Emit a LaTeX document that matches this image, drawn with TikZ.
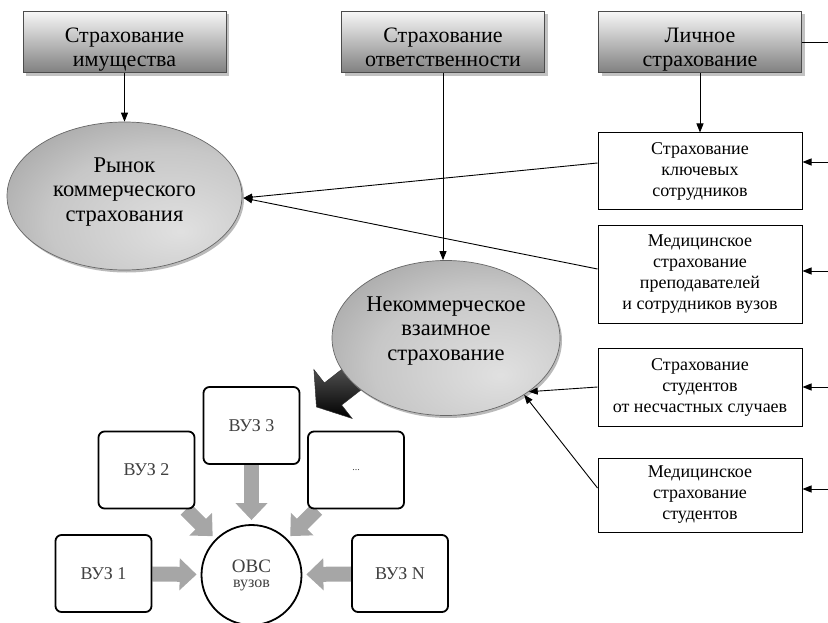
\documentclass[tikz,border=0pt]{standalone}
\usepackage{fontspec}
\setmainfont{Liberation Serif}
\usetikzlibrary{arrows.meta,shapes.geometric,shadows,calc}
\pgfdeclarelayer{bg}
\pgfsetlayers{bg,main}
\pgfdeclareradialshading{ellshade}{\pgfpoint{12bp}{-12bp}}{color(0bp)=(black!12); color(25bp)=(black!22); color(55bp)=(black!48); color(100bp)=(black!58)}
\newcommand{\topstrut}{\rule{0pt}{31pt}}
\newcommand{\botstrut}{\rule[-6pt]{0pt}{6pt}}
\begin{document}
\begin{tikzpicture}[x=1pt,y=-1pt,
  topbox/.style={rectangle, minimum width=203pt, minimum height=60pt, inner sep=0pt, align=center,
    font=\fontsize{22}{24.5}\selectfont, draw=black!70, line width=0.8pt,
    top color=black!3, bottom color=black!50,
    drop shadow={shadow xshift=3pt, shadow yshift=-3pt, fill=black!40, opacity=0.6}},
  kbox/.style={rectangle, minimum width=204pt, inner sep=0pt, align=center, draw=black, line width=1pt,
    fill=white, font=\fontsize{18}{21}\selectfont},
  ell/.style={ellipse, inner sep=0pt, draw=black!60, line width=0.7pt, shade, shading=ellshade,
    drop shadow={shadow xshift=2pt, shadow yshift=-2.5pt, fill=black!45, opacity=0.6}},
  elltext/.style={align=center, inner sep=0pt, font=\fontsize{22.5}{24.5}\selectfont},
  conn/.style={draw=black, line width=0.9pt, -{Triangle[length=9pt,width=7pt]}},
  plainline/.style={draw=black, line width=0.9pt},
  vbox/.style={rectangle, rounded corners=6pt, draw=black, line width=1.8pt, minimum width=96pt,
    minimum height=77pt, inner sep=0pt, fill=white, text=black!75, font=\fontsize{18}{20}\selectfont},
  blk/.style={draw=black!35, line width=15pt, -{Triangle[length=17pt,width=31pt]}, shorten >=4pt},
  arrowdark/.style={top color=black!55, bottom color=black, draw=black!80, line width=0.5pt}
]
\useasboundingbox (0,0) rectangle (828,623);

% top boxes
\node[topbox] (b1) at (124.5,42) {\topstrut Страхование\\имущества\botstrut};
\node[topbox] (b2) at (443,42) {\topstrut Страхование\\ответственности\botstrut};
\node[topbox] (b3) at (700,42) {\topstrut Личное\\страхование\botstrut};

% right boxes
\node[kbox, minimum height=77pt] (k1) at (700,171.5) {Страхование\\ключевых\\сотрудников};
\node[kbox, minimum height=97pt] (k2) at (700,274.5) {Медицинское\\страхование\\преподавателей\\и сотрудников вузов};
\node[kbox, minimum height=78pt] (k3) at (700,387) {Страхование\\студентов\\от несчастных случаев};
\node[kbox, minimum height=74pt] (k4) at (700,495) {Медицинское\\страхование\\студентов};

% ellipses
\node[ell, minimum width=235pt, minimum height=148pt] (e1) at (124.5,196) {};
\node[elltext] (t1) at (124.5,192) {Рынок\\коммерческого\\страхования};
\node[ell, minimum width=228pt, minimum height=155pt] (e2) at (446,338) {};
\node[elltext] (t2) at (446,331) {Некоммерческое\\взаимное\\страхование};

% dark 3D arrow leaving e2
\coordinate (darkmid) at (333,394);
\begin{pgfonlayer}{bg}
\begin{scope}[shift={(darkmid)}, rotate=218]
  \path[arrowdark] (-60,-14) -- (0,-14) -- (0,-31) -- (21,0) -- (0,31) -- (0,14) -- (-60,14) -- cycle;
\end{scope}
\end{pgfonlayer}

% connectors from top boxes
\draw[conn] (b1) -- (e1);
\draw[conn] (b2.south) -- (b2.south |- e2.north);
\draw[conn] (b3.south) -- (k1.north);
\coordinate (r0) at (828,42);
\draw[plainline] (b3.east) -- (r0);

% arrows entering right boxes from the right edge
\coordinate (r1) at (828,162);
\coordinate (r2) at (828,271);
\coordinate (r3) at (828,387);
\coordinate (r4) at (828,489);
\draw[conn] (r1) -- (k1.east |- r1);
\draw[conn] (r2) -- (k2.east |- r2);
\draw[conn] (r3) -- (k3.east |- r3);
\draw[conn] (r4) -- (k4.east |- r4);

% right boxes to ellipses
\draw[conn] ($(k1.west)+(0,-8.5)$) -- ($(e1.east)+(1,2)$);
\draw[conn] ($(k2.west)+(0,-5.5)$) -- ($(e1.east)+(1,2)$);
\draw[conn] (k3.west) -- (e2.-33);
\draw[conn] ($(k4.west)+(0,-7)$) -- (e2.-36);

% bottom group
\node[vbox] (v1) at (103.5,573.5) {ВУЗ 1};
\node[vbox] (v2) at (146.5,470) {ВУЗ 2};
\node[vbox] (v3) at (251.5,425.5) {ВУЗ 3};
\node[vbox] (v4) at (356,470) {\fontsize{10}{12}\selectfont ...};
\node[vbox] (vn) at (400,573.5) {ВУЗ N};
\node[circle, draw=black, line width=1.8pt, minimum size=100pt, inner sep=0pt, fill=white, align=center,
      text=black!75] (ovs) at (251.5,575) {\fontsize{19}{20}\selectfont ОВС\\[3pt]\fontsize{16}{18}\selectfont вузов};

\begin{pgfonlayer}{bg}
\draw[blk] (v1) -- (ovs);
\draw[blk] (v2) -- (ovs);
\draw[blk] (v3) -- (ovs);
\draw[blk] (v4) -- (ovs);
\draw[blk] (vn) -- (ovs);
\end{pgfonlayer}
\end{tikzpicture}
\end{document}
